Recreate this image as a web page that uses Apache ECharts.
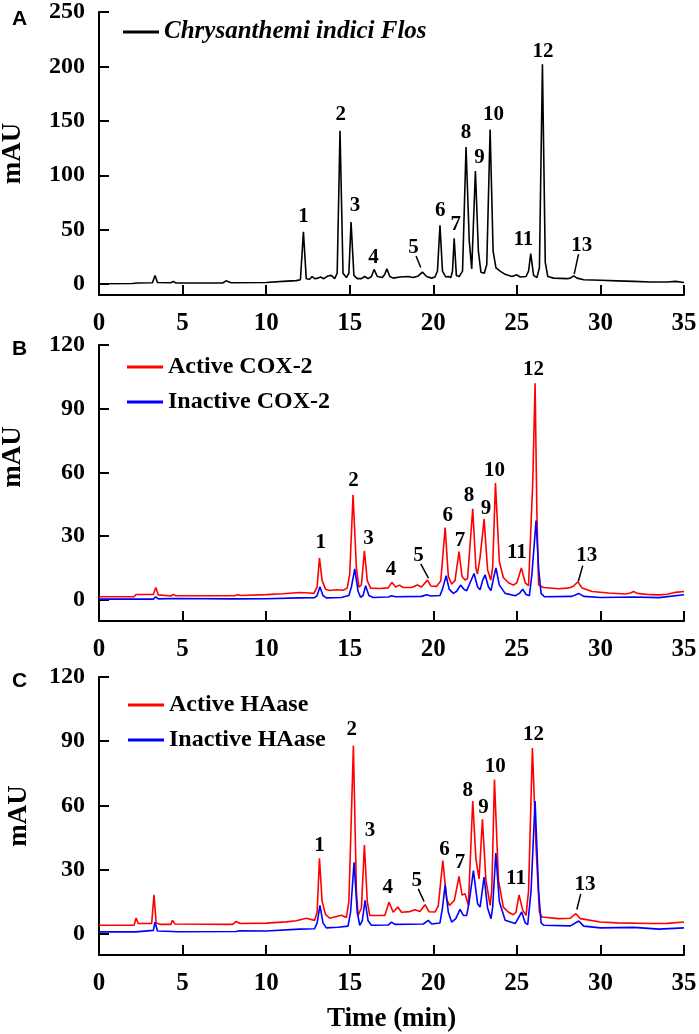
<!DOCTYPE html>
<html>
<head>
<meta charset="utf-8">
<script src="https://cdn.jsdelivr.net/npm/echarts@6/dist/echarts.min.js"></script>
<style>
html,body{margin:0;padding:0;background:#fff;}
#chart{width:699px;height:1034px;}
</style>
</head>
<body>
<div id="chart"></div>
<script>
// ---------- DATA (time in min, absorbance in mAU) ----------
const xTicks = [0, 5, 10, 15, 20, 25, 30, 35];
const yTicksA = [0, 50, 100, 150, 200, 250];
const yTicksBC = [0, 30, 60, 90, 120];

const namesA = ['Chrysanthemi indici Flos'];
const namesB = ['Active COX-2', 'Inactive COX-2'];
const namesC = ['Active HAase', 'Inactive HAase'];

const traceA = [[0,0.3],[2,0.5],[2.3,1],[3.2,1.2],[3.35,8],[3.5,1.5],[4.3,1.2],[4.45,2.5],[4.6,1],[7.4,1],[7.6,3],[7.9,1.3],[10,1.5],[11,2.5],[11.8,3.2],[12.05,4],[12.23,48],[12.4,5],[12.6,4.5],[12.75,7],[12.9,5],[13.1,5.5],[13.25,6.5],[13.45,5],[13.7,7.5],[13.9,8],[14.1,5],[14.25,10],[14.42,141],[14.6,10],[14.8,6],[14.95,10],[15.08,57],[15.25,8],[15.45,5],[15.7,5],[15.9,7],[16.1,5],[16.3,7],[16.46,13.5],[16.65,7],[16.95,6],[17.1,9],[17.22,14],[17.4,7],[17.6,5.5],[18,6.5],[18.5,7],[18.8,6],[19.1,7.5],[19.35,11],[19.6,7],[19.9,5.5],[20.1,6.5],[20.25,12],[20.4,54],[20.55,12],[20.75,6.5],[20.9,7],[21.05,6],[21.15,12],[21.25,42],[21.38,8],[21.55,7],[21.75,12],[21.96,126],[22.15,40],[22.3,14],[22.52,104],[22.7,30],[22.85,11],[23.05,10],[23.2,18],[23.4,142],[23.58,30],[23.75,15],[24,12],[24.3,9],[24.7,7],[25.0,8.5],[25.2,6.5],[25.55,7],[25.7,12],[25.83,28],[26.0,8],[26.2,6],[26.35,15],[26.53,202],[26.7,20],[26.85,7],[27.2,5.5],[28,5],[28.2,5.5],[28.4,7.5],[28.6,5.5],[29,4],[30,3.5],[31,3],[32,2.5],[33,2],[34,2],[34.5,2.5],[35,1.5]];

const traceBActive = [[0,1.4],[2.1,1.5],[2.22,2.5],[3.25,2.5],[3.4,5.8],[3.55,2.3],[4.3,1.8],[4.45,2.5],[4.6,1.9],[8.1,1.9],[8.3,2.4],[8.5,2],[10,2.4],[11,2.8],[12,3.4],[12.6,3.2],[12.85,3],[13.05,6],[13.19,19.7],[13.35,9],[13.55,5],[13.8,4.4],[14.2,4.7],[14.6,4.5],[14.85,5.5],[15.0,12],[15.2,49.5],[15.4,15],[15.55,6],[15.7,7],[15.88,23],[16.05,9],[16.25,5.5],[16.8,5.3],[17.3,5.6],[17.52,8.2],[17.75,6],[17.98,6.9],[18.2,5.8],[18.7,5.8],[19.04,7],[19.3,6],[19.65,9.3],[19.85,6.5],[20.2,6.3],[20.45,9],[20.71,34],[20.9,11],[21.1,7.4],[21.3,9],[21.54,22.7],[21.72,11],[21.9,9.3],[22.05,10],[22.36,42.8],[22.55,15],[22.64,12.1],[22.8,20],[23.04,38],[23.25,14],[23.44,9.3],[23.55,15],[23.72,55],[23.95,18],[24.19,10.5],[24.5,8],[24.79,6.9],[25.0,8],[25.27,15],[25.5,8],[25.7,6.6],[25.78,7],[25.95,55],[26.09,102],[26.2,40],[26.3,7],[26.59,5.8],[27.5,5.2],[28,5.5],[28.2,5.8],[28.4,6.5],[28.65,8.5],[28.9,5.5],[29.5,3.9],[30.5,3.2],[31.5,2.7],[31.8,3.2],[31.98,3.9],[32.2,3],[33,2.4],[33.5,2.3],[34,2.6],[34.5,3.5],[35,3.9]];

const traceBInactive = [[0,0.3],[3.25,0.3],[3.4,1.4],[3.55,0.4],[4.5,0.6],[8,0.4],[10,0.5],[12,0.9],[12.9,1],[13.05,2],[13.22,6.1],[13.4,2],[13.6,0.9],[14.5,1.1],[14.95,2],[15.1,6],[15.3,14.5],[15.5,4],[15.65,1.2],[15.8,2],[15.95,6.6],[16.15,2],[16.4,1.1],[17.3,1.3],[17.5,1.9],[17.75,1.4],[19.3,1.6],[19.6,2.4],[19.85,1.8],[20.4,2],[20.55,5],[20.77,11.3],[20.95,5],[21.2,3],[21.4,4],[21.63,6.9],[21.85,4.8],[22.0,4.3],[22.2,8],[22.44,12.4],[22.65,6],[22.8,4.7],[22.95,9],[23.1,11.8],[23.3,6],[23.45,4.3],[23.6,10],[23.75,15],[23.95,7],[24.3,3],[24.9,1.9],[25.15,3],[25.35,5],[25.55,2.5],[25.75,1.9],[25.9,12],[26.15,37.3],[26.3,15],[26.45,3],[26.65,1.4],[28.3,1.6],[28.7,3],[29,1.6],[30,1.1],[32,1.3],[33.5,1],[35,2.4]];

const traceCActive = [[0,3.9],[2.1,3.9],[2.22,7.3],[2.35,4.7],[3.15,4.7],[3.29,18.1],[3.42,5],[3.7,4.3],[4.3,4.3],[4.39,6.2],[4.55,4.5],[8,4.3],[8.2,5.7],[8.45,4.7],[10,4.9],[11.2,5.5],[11.8,6],[12.4,7.2],[12.9,6.2],[13.05,10],[13.19,35.2],[13.35,15],[13.55,9],[13.8,7.2],[14.1,7.8],[14.5,8.6],[14.8,7.5],[14.95,15],[15.22,87.9],[15.4,20],[15.5,8.5],[15.7,12],[15.88,41.4],[16.05,15],[16.2,8.5],[17.1,8.5],[17.35,14.7],[17.6,10],[17.87,12.4],[18.1,10],[18.6,10.3],[18.9,11.2],[19.2,10.3],[19.51,13.5],[19.75,10.2],[20.1,10.1],[20.3,13],[20.57,34.1],[20.8,16],[20.97,13.2],[21.26,15.5],[21.54,26.8],[21.72,18],[21.9,18.6],[22.1,13.2],[22.36,62],[22.55,35],[22.74,25.6],[22.94,53.5],[23.15,25],[23.4,13.2],[23.5,20],[23.66,72.1],[23.9,25],[24.19,12.4],[24.5,10],[24.79,8.8],[24.95,10],[25.13,18.1],[25.35,11],[25.55,8.5],[25.7,20],[25.93,86.8],[26.15,40],[26.35,10],[26.5,7.8],[27.5,7],[28.2,7.2],[28.53,9.3],[28.8,7],[30,5.4],[31,5],[33,4.7],[34,4.8],[35,5.4]];

const traceCInactive = [[0,0.8],[2.2,0.8],[2.3,1.5],[3.25,1.5],[3.35,5.4],[3.5,1.2],[4.4,1],[4.5,1.8],[4.7,0.9],[8.2,1],[8.4,1.3],[10,1.2],[12,2.1],[12.9,2.3],[13.05,5],[13.22,13.2],[13.4,5],[13.6,2.7],[14.3,3],[14.9,3.5],[15.05,10],[15.26,33.3],[15.45,10],[15.6,3.9],[15.75,6],[15.92,15.5],[16.1,6],[16.3,3.9],[17.3,4],[17.5,5.4],[17.7,4.3],[19.4,4.5],[19.7,6.2],[19.9,4.5],[20.4,5],[20.55,12],[20.71,22.8],[20.9,10],[21.1,5.4],[21.35,7],[21.6,11.3],[21.8,8.5],[22.0,8.5],[22.15,15],[22.4,29.5],[22.65,14],[22.8,12.4],[23.04,26.4],[23.25,12],[23.45,7],[23.55,12],[23.74,37.7],[23.95,15],[24.3,6.2],[24.9,4.7],[25.29,10.1],[25.5,5],[25.65,4.2],[25.85,20],[26.09,62],[26.3,20],[26.45,5],[26.6,3.9],[28.2,3.6],[28.7,5.9],[29,3.5],[30,2.7],[32,2.9],[33.5,2.1],[35,2.7]];

// peak number labels: [time, mAU, text]
const peakLabelsA = [[12.23,62.5,'1'],[14.46,155.7,'2'],[15.32,71.7,'3'],[16.42,24.4,'4'],[18.81,33.6,'5'],[20.41,67.8,'6'],[21.35,55,'7'],[21.96,139.5,'8'],[22.76,116,'9'],[23.6,155.7,'10'],[25.39,41.2,'11'],[26.57,214,'12'],[28.88,35,'13']];
const peakLabelsB = [[13.27,27.1,'1'],[15.22,56.2,'2'],[16.12,28.7,'3'],[17.47,14,'4'],[19.11,20.8,'5'],[20.87,39.7,'6'],[21.6,27.9,'7'],[22.14,49.1,'8'],[23.16,42.8,'9'],[23.66,60.9,'10'],[25.0,22,'11'],[25.99,108.2,'12'],[29.18,20.8,'13']];
const peakLabelsC = [[13.19,41.1,'1'],[15.12,95.3,'2'],[16.22,48,'3'],[17.28,21.3,'4'],[19.01,24.8,'5'],[20.67,39.5,'6'],[21.6,33.3,'7'],[22.06,66.7,'8'],[23.0,58.9,'9'],[23.7,78,'10'],[24.95,25.6,'11'],[25.99,93,'12'],[29.08,22.8,'13']];

// leader lines from labels to small peaks
const leadersA = [[[18.97,25.9],[19.25,15.3]],[[28.69,27.5],[28.43,9.2]]];
const leadersB = [[[19.25,16.9],[19.71,10.2]],[[28.94,16.1],[28.68,8.7]]];
const leadersC = [[[19.1,20.9],[19.45,15]],[[28.82,18.6],[28.59,11.3]]];

// ---------- CHART ----------
const SERIF = 'Liberation Serif';
const BLACK = '#000';
const RED = '#ff0000';
const BLUE = '#0000ff';

function xAxisCfg(gi, withName) {
  const a = {
    type: 'value', gridIndex: gi, min: 0, max: 35, interval: 5,
    axisLine: { show: true, onZero: false, lineStyle: { color: BLACK, width: 2 } },
    axisTick: { show: true, inside: true, length: 10, lineStyle: { color: BLACK, width: 2 } },
    axisLabel: { color: BLACK, fontFamily: SERIF, fontWeight: 'bold', fontSize: 25, margin: 16 },
    splitLine: { show: false }
  };
  if (withName) {
    a.name = 'Time (min)';
    a.nameLocation = 'middle';
    a.nameGap = 51;
    a.nameTextStyle = { color: BLACK, fontFamily: SERIF, fontWeight: 'bold', fontSize: 27 };
  }
  return a;
}
function yAxisCfg(gi, max, ticks, pad, gap) {
  return {
    type: 'value', gridIndex: gi, min: -10, max: max,
    axisLine: { show: true, onZero: false, lineStyle: { color: BLACK, width: 2 } },
    axisTick: { show: true, inside: true, length: 10, customValues: ticks, lineStyle: { color: BLACK, width: 2 } },
    axisLabel: { color: BLACK, fontFamily: SERIF, fontWeight: 'bold', fontSize: 24, margin: 14, customValues: ticks },
    splitLine: { show: false },
    name: 'mAU', nameLocation: 'middle', nameGap: gap,
    nameTextStyle: { color: BLACK, fontFamily: SERIF, fontWeight: 'bold', fontSize: 27, padding: pad }
  };
}
function traceSeries(name, data, gi, color) {
  return {
    type: 'line', name: name, data: data, xAxisIndex: gi, yAxisIndex: gi,
    symbol: 'none', showSymbol: false, smooth: false,
    lineStyle: { color: color, width: 1.6 }, itemStyle: { color: color },
    silent: true, z: 3
  };
}
function labelSeries(labels, leaders, gi) {
  return {
    type: 'scatter', name: 'peaks' + gi, xAxisIndex: gi, yAxisIndex: gi,
    symbolSize: 0, silent: true, z: 5,
    itemStyle: { color: BLACK, opacity: 1 },
    data: labels.map(p => ({ value: [p[0], p[1]], name: p[2] })),
    label: { show: true, position: 'inside', formatter: '{b}', color: BLACK,
             textBorderWidth: 0, textBorderColor: 'transparent', opacity: 1,
             fontFamily: SERIF, fontWeight: 'bold', fontSize: 21 },
    markLine: {
      silent: true, symbol: ['none', 'none'], animation: false,
      label: { show: false },
      lineStyle: { color: BLACK, width: 1.5, type: 'solid', opacity: 1 },
      data: leaders.map(l => [{ coord: l[0] }, { coord: l[1] }])
    }
  };
}
function legendCfg(names, left, top, italic, size) {
  return {
    data: names, left: left, top: top, orient: 'vertical',
    icon: 'rect', itemWidth: 36, itemHeight: 3, itemGap: 9,
    selectedMode: false,
    textStyle: { color: BLACK, fontFamily: SERIF, fontWeight: 'bold', fontSize: size,
                 fontStyle: italic ? 'italic' : 'normal', lineHeight: 26 }
  };
}

const letterStyle = { fontFamily: 'Liberation Sans', fontWeight: 'bold', fontSize: 21, color: BLACK };

const chart = echarts.init(document.getElementById('chart'), null, { renderer: 'canvas' });
chart.setOption({
  animation: false,
  backgroundColor: '#fff',
  title: [
    { text: 'A', left: 7, top: 4, textStyle: letterStyle },
    { text: 'B', left: 7, top: 334, textStyle: letterStyle },
    { text: 'C', left: 7, top: 666, textStyle: letterStyle }
  ],
  grid: [
    { left: 99, right: 15, top: 12, height: 283, outerBoundsMode: 'none', containLabel: false },
    { left: 99, right: 15, top: 345, height: 276, outerBoundsMode: 'none', containLabel: false },
    { left: 99, right: 15, top: 677, height: 278, outerBoundsMode: 'none', containLabel: false }
  ],
  legend: [
    legendCfg(namesA, 118, 14, true, 25),
    legendCfg(namesB, 122, 349, false, 24),
    legendCfg(namesC, 123, 687, false, 24)
  ],
  xAxis: [xAxisCfg(0, false), xAxisCfg(1, false), xAxisCfg(2, true)],
  yAxis: [
    yAxisCfg(0, 250, yTicksA, [0, 0, 0, 0], 72),
    yAxisCfg(1, 120, yTicksBC, [0, 0, 0, 52], 72),
    yAxisCfg(2, 120, yTicksBC, [0, 0, 0, 0], 66)
  ],
  series: [
    traceSeries(namesA[0], traceA, 0, BLACK),
    traceSeries(namesB[0], traceBActive, 1, RED),
    traceSeries(namesB[1], traceBInactive, 1, BLUE),
    traceSeries(namesC[0], traceCActive, 2, RED),
    traceSeries(namesC[1], traceCInactive, 2, BLUE),
    labelSeries(peakLabelsA, leadersA, 0),
    labelSeries(peakLabelsB, leadersB, 1),
    labelSeries(peakLabelsC, leadersC, 2)
  ]
});
</script>
</body>
</html>
